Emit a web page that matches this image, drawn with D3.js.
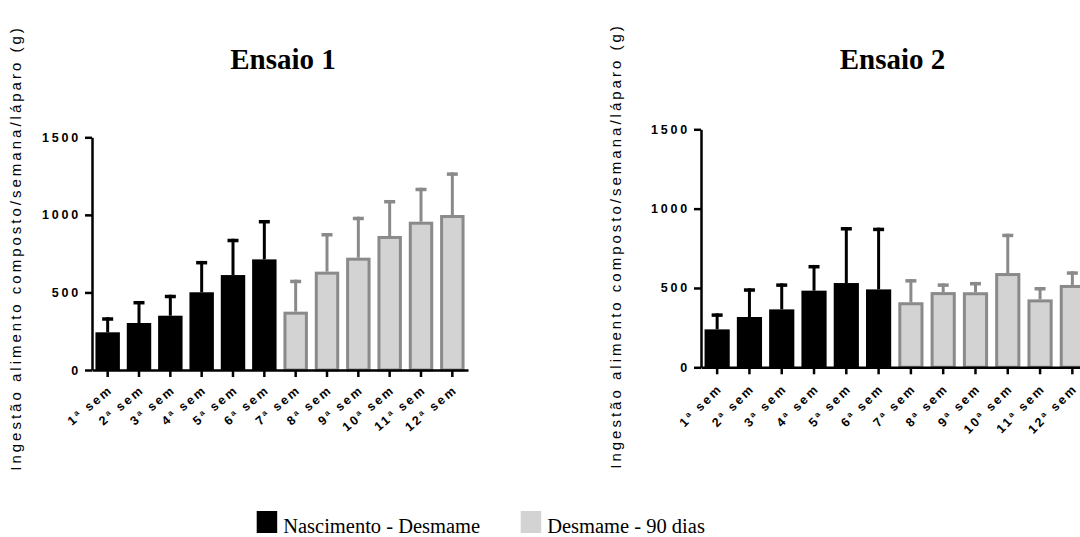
<!DOCTYPE html>
<html>
<head>
<meta charset="utf-8">
<script src="https://cdn.jsdelivr.net/npm/d3@7"></script>
<style>
  body { margin: 0; background: #fff; }
  svg { display: block; }
</style>
</head>
<body>
<div id="chart"></div>
<script>
// Data
const weeks = ["1ª sem", "2ª sem", "3ª sem", "4ª sem", "5ª sem", "6ª sem",
               "7ª sem", "8ª sem", "9ª sem", "10ª sem", "11ª sem", "12ª sem"];
const phase = ["nasc", "nasc", "nasc", "nasc", "nasc", "nasc",
               "desm", "desm", "desm", "desm", "desm", "desm"];
const ensaio1Mean = [243, 303, 350, 501, 612, 713, 376, 634, 724, 864, 956, 999];
const ensaio1Sd   = [97, 142, 135, 202, 234, 254, 206, 249, 264, 232, 219, 275];
const ensaio2Mean = [239, 317, 365, 483, 531, 491, 410, 474, 473, 594, 428, 519];
const ensaio2Sd   = [101, 181, 164, 162, 353, 389, 146, 55, 65, 248, 78, 86];
const yTicks = [0, 500, 1000, 1500];
const legendLabels = ["Nascimento - Desmame", "Desmame - 90 dias"];
const yLabel = "Ingestão alimento composto/semana/láparo  (g)";

const W = 1080, H = 537;
const black = "#000", grayFill = "#d3d3d3", grayLine = "#8a8a8a";

const svg = d3.select("#chart").append("svg")
  .attr("width", W).attr("height", H);

function drawPanel(cfg) {
  const g = svg.append("g");
  const x = d3.scaleBand()
    .domain(weeks)
    .range([cfg.x0, cfg.x1])
    .paddingInner(0.22)
    .paddingOuter(0.11);
  const y = d3.scaleLinear().domain([0, 1500]).range([cfg.y0, cfg.y1]);

  const rows = weeks.map((w, i) => ({ w, p: phase[i], m: cfg.mean[i], sd: cfg.sd[i] }));
  const sw = 3;

  // error bars (upper only)
  rows.forEach(d => {
    const cx = x(d.w) + x.bandwidth() / 2;
    const col = d.p === "nasc" ? black : grayLine;
    g.append("line")
      .attr("x1", cx).attr("x2", cx)
      .attr("y1", y(d.m)).attr("y2", y(d.m + d.sd))
      .attr("stroke", col).attr("stroke-width", 3);
    g.append("rect")
      .attr("x", cx - 5.5).attr("width", 11)
      .attr("y", y(d.m + d.sd)).attr("height", 3.5)
      .attr("fill", col);
  });

  // bars
  g.selectAll("rect.bar")
    .data(rows)
    .enter()
    .append("rect")
    .attr("class", "bar")
    .attr("x", d => d.p === "nasc" ? x(d.w) : x(d.w) + sw / 2)
    .attr("width", d => d.p === "nasc" ? x.bandwidth() : x.bandwidth() - sw)
    .attr("y", d => d.p === "nasc" ? y(d.m) : y(d.m) + sw / 2)
    .attr("height", d => d.p === "nasc" ? cfg.y0 - y(d.m) : cfg.y0 - y(d.m) - sw / 2)
    .attr("fill", d => d.p === "nasc" ? black : grayFill)
    .attr("stroke", d => d.p === "nasc" ? "none" : grayLine)
    .attr("stroke-width", sw);

  // y axis
  const yAxis = g.append("g")
    .attr("transform", `translate(${cfg.x0},0)`)
    .call(d3.axisLeft(y).tickValues(yTicks).tickFormat(d3.format("d"))
      .tickSize(7).tickPadding(4).tickSizeOuter(0));
  yAxis.select(".domain").attr("stroke", black).attr("stroke-width", 2.5);
  yAxis.selectAll(".tick line").attr("stroke", black).attr("stroke-width", 2.5);
  yAxis.selectAll(".tick text")
    .attr("fill", black)
    .style("font-family", "'Liberation Sans', Arial, sans-serif")
    .style("font-weight", "bold")
    .style("font-size", "12.5px")
    .style("letter-spacing", "2.8px");

  // x axis
  const xAxis = g.append("g")
    .attr("transform", `translate(0,${cfg.y0})`)
    .call(d3.axisBottom(x).tickSize(7).tickSizeOuter(0));
  xAxis.select(".domain").attr("stroke", black).attr("stroke-width", 2.5);
  xAxis.selectAll(".tick line").attr("stroke", black).attr("stroke-width", 2.5);
  xAxis.selectAll(".tick text")
    .attr("fill", black)
    .attr("text-anchor", "end")
    .attr("dy", null)
    .attr("y", 0)
    .attr("transform", `translate(6,${cfg.labelDy}) rotate(${cfg.angle})`)
    .style("font-family", "'Liberation Sans', Arial, sans-serif")
    .style("font-weight", "bold")
    .style("font-size", "12.5px")
    .style("letter-spacing", "2.4px");

  // title
  g.append("text")
    .attr("x", cfg.titleX).attr("y", cfg.titleY)
    .attr("text-anchor", "middle")
    .style("font-family", "'Liberation Serif', 'Times New Roman', serif")
    .style("font-weight", "bold")
    .style("font-size", "29px")
    .text(cfg.title);

  // y label
  g.append("text")
    .attr("transform", `translate(${cfg.labelX},${cfg.labelY}) rotate(-90)`)
    .attr("text-anchor", "middle")
    .style("font-family", "'Liberation Sans', Arial, sans-serif")
    .style("font-size", "15px")
    .style("letter-spacing", "3px")
    .text(yLabel);
}

drawPanel({
  x0: 92, x1: 468, y0: 370, y1: 137.3,
  mean: ensaio1Mean, sd: ensaio1Sd,
  angle: -40, labelDy: 21,
  title: "Ensaio 1", titleX: 283, titleY: 69,
  labelX: 21, labelY: 248
});

drawPanel({
  x0: 701, x1: 1088.5, y0: 367.3, y1: 129.3,
  mean: ensaio2Mean, sd: ensaio2Sd,
  angle: -45, labelDy: 22,
  title: "Ensaio 2", titleX: 892.5, titleY: 68.5,
  labelX: 621, labelY: 246
});

// legend
const legend = svg.append("g");
const legendX = [256.7, 520.7];
legendLabels.forEach((lab, i) => {
  legend.append("rect")
    .attr("x", legendX[i]).attr("y", 511)
    .attr("width", 20.5).attr("height", 22)
    .attr("fill", i === 0 ? black : grayFill);
  legend.append("text")
    .attr("x", legendX[i] + 26.5).attr("y", 533)
    .style("font-family", "'Liberation Serif', 'Times New Roman', serif")
    .style("font-size", "20.5px")
    .text(lab);
});
</script>
</body>
</html>
